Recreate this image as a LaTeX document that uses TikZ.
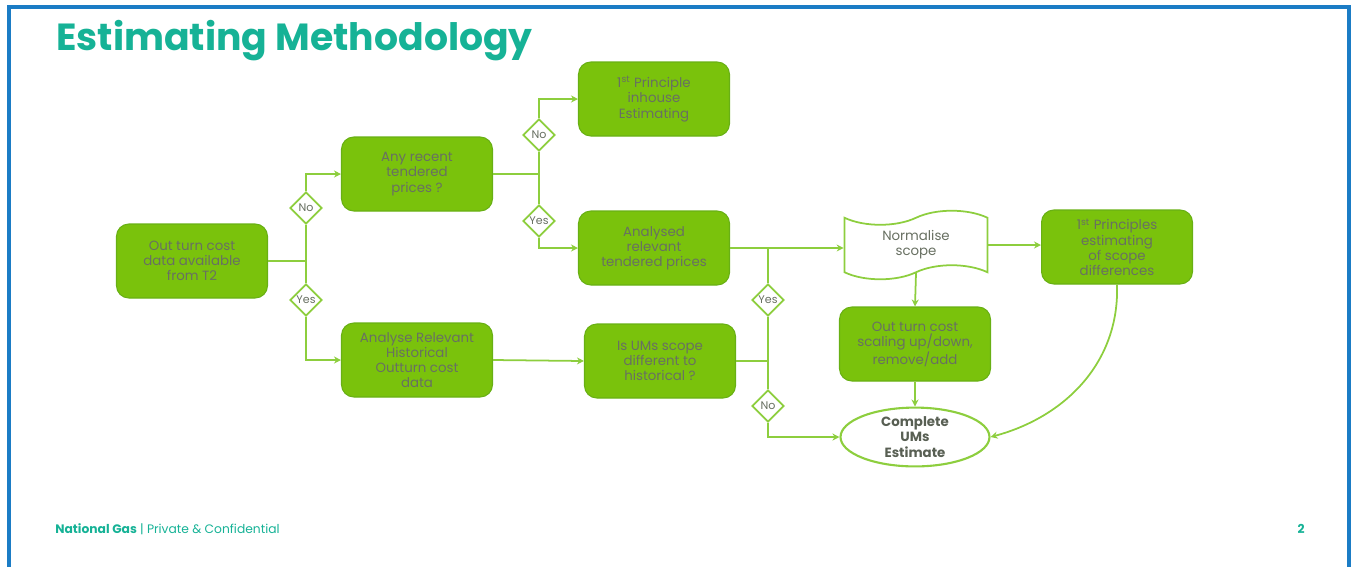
\documentclass[tikz,border=0pt]{standalone}
\usepackage{fontspec}
\setmainfont{Poppins}
\usepackage{xcolor}
\usepackage{tikz}
\usetikzlibrary{shapes.geometric, shapes.symbols, arrows.meta, positioning}

\definecolor{ngteal}{RGB}{22,178,150}
\definecolor{ngblue}{RGB}{27,124,197}
\definecolor{boxgreen}{RGB}{122,194,12}
\definecolor{boxedge}{RGB}{104,176,20}
\definecolor{linegreen}{RGB}{141,206,62}
\definecolor{boxtext}{RGB}{104,112,98}

\begin{document}
\begin{tikzpicture}[
    x=0.02cm, y=-0.02cm,
    font=\fontsize{7.6}{8.6}\selectfont,
    process/.style={rectangle, draw=boxedge, fill=boxgreen, text=boxtext, minimum width=3.02cm, minimum height=1.48cm, align=center, rounded corners=7pt, line width=0.6pt},
    decision/.style={diamond, draw=linegreen, fill=white, text=boxtext, line width=1pt, inner sep=0pt, minimum width=0.64cm, minimum height=0.64cm, font=\fontsize{6.3}{7}\selectfont},
    link/.style={draw=linegreen, line width=1pt},
    arrow/.style={link, -{Stealth[length=4pt, width=4pt]}}
]

\useasboundingbox (0,0) rectangle (1352,566);
\draw [ngblue, line width=1.8pt] (9,600) -- (9,7) -- (1349,7) -- (1349,600);

\node (title) [anchor=base west, inner sep=0pt, text=ngteal, font=\fontsize{21.5}{24}\selectfont\bfseries] at (56,50) {Estimating Methodology};

\node (n1) [process] at (192,261) {Out turn cost\\data available\\from T2};
\node (n2) [process] at (417,174) {Any recent\\tendered\\prices ?};
\node (n3) [process] at (417,360) {Analyse Relevant\\Historical\\Outturn cost\\data};
\node (n4) [process] at (654,99) {1\textsuperscript{st} Principle\\inhouse\\Estimating};
\node (n5) [process] at (654,248) {Analysed\\relevant\\tendered prices};
\node (n6) [process] at (660,361) {Is UMs scope\\different to\\historical ?};
\node (n7) [tape, draw=linegreen, fill=white, text=boxtext, line width=1pt, minimum width=2.86cm, minimum height=1.2cm, tape bend height=8pt, align=center] at (916,245) {Normalise\\scope};
\node (n8) [process] at (1117,247) {1\textsuperscript{st} Principles\\estimating\\of scope\\differences};
\node (n9) [process] at (915,344) {Out turn cost\\scaling up/down,\\remove/add};
\node (n10) [ellipse, draw=linegreen, fill=white, line width=1.2pt, minimum width=2.98cm, minimum height=1.08cm, inner sep=0pt, align=center, text=boxtext!85!black, font=\fontsize{7.6}{9}\selectfont\bfseries] at (915,437) {Complete\\UMs\\Estimate};

\node (d1) [decision] at (306,208) {No};
\node (d2) [decision] at (306,300) {Yes};
\node (d3) [decision] at (539,135) {No};
\node (d4) [decision] at (539,221) {Yes};
\node (d5) [decision] at (768,300) {Yes};
\node (d6) [decision] at (768,406) {No};

% first split
\draw [link] (n1.east) -- (n1.east -| d1.south) -- (d1.south);
\draw [link] (n1.east -| d2.north) -- (d2.north);
\draw [arrow] (d1.north) |- (n2.west);
\draw [arrow] (d2.south) |- (n3.west);

% tendered prices split
\draw [link] (n2.east) -- (n2.east -| d3.south) -- (d3.south);
\draw [link] (n2.east -| d4.north) -- (d4.north);
\draw [arrow] (d3.north) |- (n4.west);
\draw [arrow] (d4.south) |- (n5.west);

\draw [arrow] (n3.east) -- (n6.west);

% scope check
\draw [arrow] (n5.east) -- (n5.east -| n7.west);
\draw [link] (n5.east -| d5.north) -- (d5.north);
\draw [link] (d5.south) -- (d6.north);
\draw [link] (n6.east) -- (n6.east -| d5.south);
\draw [arrow] (d6.south) |- (n10.west);

\draw [arrow] (n7.east) -- (n7.east -| n8.west);
\draw [arrow] (n7.south) -- (n9.north);
\draw [arrow] (n9.south) -- (n10.north);
\draw [arrow] (n8.south) to[out=-88, in=15] (n10.east);

% footer
\node (foot) [anchor=base west, inner sep=0pt, text=ngteal, font=\fontsize{7}{8}\selectfont] at (55,533) {\textbf{National Gas} | Private \& Confidential};
\node (page) [anchor=base, inner sep=0pt, text=ngteal, font=\fontsize{7}{8}\selectfont\bfseries] at (1301,533) {2};

\end{tikzpicture}
\end{document}
